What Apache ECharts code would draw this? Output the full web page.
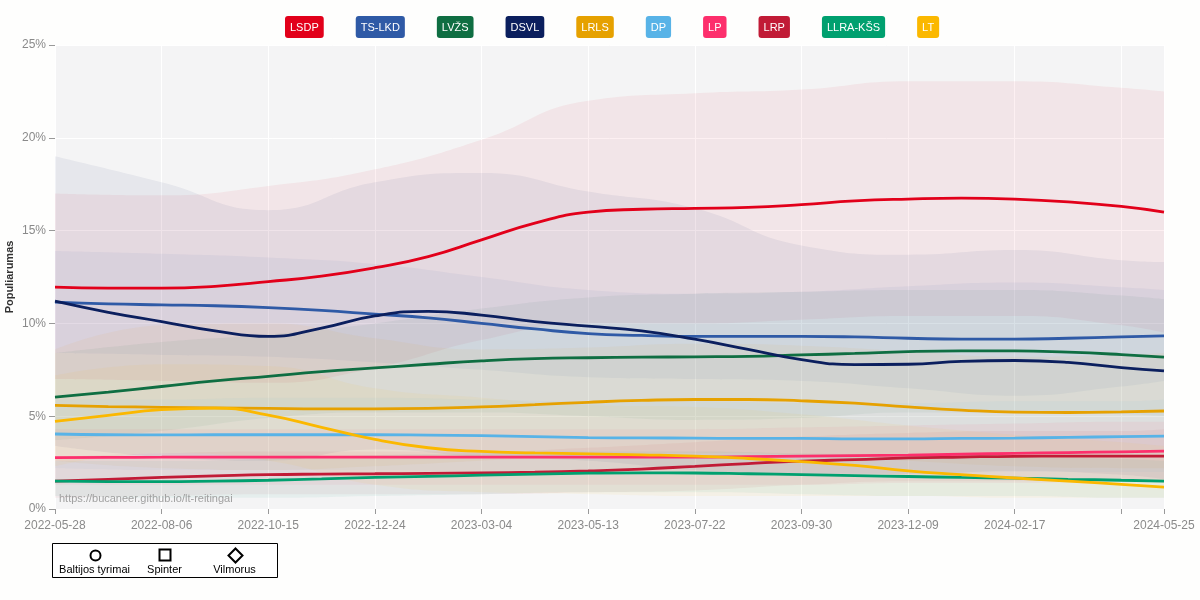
<!DOCTYPE html>
<html lang="lt">

<head>
    <meta charset="UTF-8">
    <script src="https://cdn.jsdelivr.net/npm/echarts@6/dist/echarts.min.js"></script>
    <title>Reitingai</title>
    <style>
        html, body { margin: 0; padding: 0; background: #fefefd; }
    </style>
</head>

<body>
    <div id="main" style="width: 1200px; height: 600px;"></div>

    <script>
        // parties and colours
        var parties = ['LSDP', 'TS-LKD', 'LVŽS', 'DSVL', 'LRLS', 'DP', 'LP', 'LRP', 'LLRA-KŠS', 'LT'];
        var colors = ['#e2001a', '#2f5aa6', '#0f6e42', '#0b1f5e', '#e6a100', '#58b3e7', '#fd2f6c', '#c11b36', '#00a06f', '#fbb800'];

        // smoothed estimate, every 5 weeks
        var dates = ['2022-05-28', '2022-07-02', '2022-08-06', '2022-09-10', '2022-10-15', '2022-11-19',
            '2022-12-24', '2023-01-28', '2023-03-04', '2023-04-08', '2023-05-13', '2023-06-17',
            '2023-07-22', '2023-08-26', '2023-09-30', '2023-11-04', '2023-12-09', '2024-01-13',
            '2024-02-17', '2024-03-23', '2024-04-27', '2024-05-25'];

        var lsdp = [11.95, 11.9, 11.9, 12.0, 12.25, 12.55, 13.0, 13.6, 14.5, 15.4, 16.0, 16.15, 16.2, 16.25, 16.4, 16.6, 16.7, 16.75, 16.7, 16.55, 16.3, 16.0];
        var tsLkd = [11.15, 11.05, 11.0, 10.95, 10.85, 10.7, 10.5, 10.3, 10.0, 9.7, 9.45, 9.35, 9.3, 9.3, 9.3, 9.27, 9.2, 9.15, 9.15, 9.2, 9.27, 9.33];
        var lvzs = [6.03, 6.3, 6.6, 6.9, 7.15, 7.4, 7.6, 7.8, 7.98, 8.1, 8.15, 8.18, 8.2, 8.22, 8.3, 8.38, 8.48, 8.52, 8.52, 8.45, 8.32, 8.18];
        var dsvl = [11.2, 10.6, 10.1, 9.6, 9.3, 9.75, 10.4, 10.65, 10.45, 10.1, 9.85, 9.6, 9.15, 8.6, 8.05, 7.78, 7.8, 7.95, 8.0, 7.9, 7.62, 7.44];
        var lrls = [5.58, 5.52, 5.48, 5.45, 5.42, 5.4, 5.4, 5.42, 5.5, 5.62, 5.75, 5.85, 5.9, 5.9, 5.83, 5.7, 5.5, 5.33, 5.22, 5.2, 5.23, 5.28];
        var dp = [4.04, 4.0, 3.99, 4.0, 4.0, 4.0, 4.0, 3.98, 3.95, 3.9, 3.85, 3.83, 3.82, 3.8, 3.8, 3.78, 3.78, 3.8, 3.82, 3.86, 3.9, 3.93];
        var lp = [2.77, 2.78, 2.79, 2.8, 2.8, 2.8, 2.8, 2.8, 2.8, 2.8, 2.8, 2.8, 2.8, 2.82, 2.85, 2.88, 2.9, 2.95, 3.0, 3.04, 3.08, 3.12];
        var lrp = [1.5, 1.6, 1.7, 1.78, 1.85, 1.88, 1.9, 1.92, 1.94, 1.98, 2.05, 2.15, 2.3, 2.45, 2.58, 2.66, 2.75, 2.8, 2.84, 2.85, 2.85, 2.85];
        var llra = [1.5, 1.48, 1.47, 1.5, 1.55, 1.62, 1.7, 1.76, 1.82, 1.88, 1.93, 1.95, 1.94, 1.9, 1.85, 1.8, 1.75, 1.7, 1.66, 1.6, 1.55, 1.5];
        var lt = [4.72, 5.05, 5.35, 5.44, 5.06, 4.4, 3.75, 3.3, 3.1, 3.02, 2.97, 2.92, 2.85, 2.72, 2.55, 2.35, 2.05, 1.85, 1.67, 1.5, 1.33, 1.18];

        // uncertainty bands, every 10 weeks
        var bandDates = ['2022-05-28', '2022-08-06', '2022-10-15', '2022-12-24', '2023-03-04', '2023-05-13',
            '2023-07-22', '2023-09-30', '2023-12-09', '2024-02-17', '2024-04-27', '2024-05-25'];

        var lsdpLo = [7.0, 6.9, 6.8, 7.6, 9.1, 10.0, 10.0, 10.2, 10.4, 10.4, 9.9, 9.5];
        var lsdpHi = [17.0, 16.9, 17.4, 18.3, 19.9, 22.0, 22.4, 22.6, 23.05, 23.05, 22.7, 22.5];
        var tsLkdLo = [8.4, 8.3, 8.2, 7.9, 7.5, 7.1, 7.0, 6.9, 6.5, 6.1, 6.6, 6.9];
        var tsLkdHi = [13.9, 13.75, 13.55, 13.2, 12.5, 11.8, 11.6, 11.7, 12.0, 12.2, 11.95, 11.8];
        var lvzsLo = [3.7, 4.2, 4.9, 5.2, 5.2, 5.0, 4.8, 4.9, 5.2, 5.2, 5.1, 5.0];
        var lvzsHi = [8.4, 9.0, 9.4, 10.0, 10.8, 11.4, 11.6, 11.7, 11.8, 11.8, 11.5, 11.3];
        var dsvlLo = [3.4, 2.8, 2.6, 3.2, 2.8, 2.6, 2.1, 1.9, 1.9, 2.05, 1.84, 1.6];
        var dsvlHi = [19.0, 17.6, 16.1, 17.6, 18.1, 17.1, 16.2, 14.2, 13.7, 13.95, 13.4, 13.3];
        var lrlsLo = [2.6, 2.2, 2.1, 2.3, 2.6, 2.9, 3.0, 2.9, 2.6, 2.3, 2.2, 2.2];
        var lrlsHi = [8.6, 9.9, 10.0, 9.2, 8.6, 8.7, 8.9, 8.8, 8.5, 8.2, 8.3, 8.4];
        var dpLo = [2.2, 2.1, 2.1, 2.1, 2.0, 2.0, 1.9, 1.9, 1.9, 2.0, 2.0, 2.0];
        var dpHi = [5.9, 5.9, 6.0, 6.0, 5.9, 5.8, 5.8, 5.7, 5.7, 5.8, 5.8, 5.9];
        var lpLo = [1.3, 1.3, 1.3, 1.3, 1.3, 1.3, 1.3, 1.3, 1.4, 1.4, 1.5, 1.5];
        var lpHi = [4.3, 4.3, 4.3, 4.3, 4.3, 4.3, 4.3, 4.4, 4.5, 4.6, 4.7, 4.7];
        var lrpLo = [0.6, 0.7, 0.8, 0.8, 0.8, 0.9, 1.0, 1.3, 1.5, 1.5, 1.5, 1.4];
        var lrpHi = [2.8, 3.0, 3.1, 3.1, 3.1, 3.3, 3.6, 3.9, 4.1, 4.2, 4.2, 4.3];
        var llraLo = [0.7, 0.6, 0.6, 0.7, 0.8, 0.9, 0.9, 0.8, 0.7, 0.7, 0.6, 0.6];
        var llraHi = [2.6, 2.6, 2.7, 2.9, 3.0, 3.1, 3.1, 3.0, 2.9, 2.8, 2.7, 2.6];
        var ltLo = [2.3, 3.0, 2.6, 1.3, 0.9, 0.8, 0.7, 0.7, 0.7, 0.6, 0.6, 0.6];
        var ltHi = [7.2, 7.8, 7.7, 6.5, 6.0, 5.6, 5.5, 5.1, 4.5, 4.0, 3.6, 3.4];

        var yTicks = [0, 5, 10, 15, 20, 25];
        var pollsters = ['Baltijos tyrimai', 'Spinter', 'Vilmorus'];

        var means = [lsdp, tsLkd, lvzs, dsvl, lrls, dp, lp, lrp, llra, lt];
        var lows = [lsdpLo, tsLkdLo, lvzsLo, dsvlLo, lrlsLo, dpLo, lpLo, lrpLo, llraLo, ltLo];
        var highs = [lsdpHi, tsLkdHi, lvzsHi, dsvlHi, lrlsHi, dpHi, lpHi, lrpHi, llraHi, ltHi];

        var DAY = 86400000;
        function toTime(s) { return Date.parse(s + 'T00:00:00Z'); }
        var t0 = toTime(dates[0]);
        var t1 = toTime(dates[dates.length - 1]);
        var spanDays = Math.round((t1 - t0) / DAY);

        var font = 'Liberation Sans, Arial, sans-serif';
        var series = [];

        // bands first so the lines sit on top
        parties.forEach(function (p, i) {
            series.push({
                name: p,
                type: 'line',
                stack: 'band' + i,
                silent: true,
                smooth: true,
                symbol: 'none',
                lineStyle: { opacity: 0 },
                data: bandDates.map(function (d, k) { return [toTime(d), lows[i][k]]; })
            });
            series.push({
                name: p,
                type: 'line',
                stack: 'band' + i,
                silent: true,
                smooth: true,
                symbol: 'none',
                lineStyle: { opacity: 0 },
                areaStyle: { color: colors[i], opacity: 0.06 },
                data: bandDates.map(function (d, k) { return [toTime(d), highs[i][k] - lows[i][k]]; })
            });
        });

        parties.forEach(function (p, i) {
            series.push({
                name: p,
                type: 'line',
                smooth: true,
                symbol: 'none',
                z: 5,
                lineStyle: { color: colors[i], width: 2.8 },
                itemStyle: { color: colors[i] },
                data: dates.map(function (d, k) { return [toTime(d), means[i][k]]; })
            });
        });

        var rich = {};
        parties.forEach(function (p, i) {
            rich['p' + i] = {
                color: '#fff',
                backgroundColor: colors[i],
                borderRadius: 3,
                padding: [6, 5, 5, 5],
                fontSize: 11,
                fontFamily: font
            };
        });

        var chart = echarts.init(document.getElementById('main'));
        var option = {
            animation: false,
            backgroundColor: '#fefefd',
            legend: {
                data: parties,
                top: 11,
                left: 275,
                itemWidth: 0,
                itemHeight: 0,
                itemGap: 27,
                icon: 'rect',
                selectedMode: false,
                formatter: function (name) {
                    return '{p' + parties.indexOf(name) + '|' + name + '}';
                },
                textStyle: { rich: rich }
            },
            grid: {
                left: 55,
                right: 36,
                top: 45,
                bottom: 91,
                containLabel: false,
                outerBoundsMode: 'none',
                show: true,
                backgroundColor: '#f4f4f5',
                borderWidth: 0
            },
            xAxis: [
                {
                    // data axis, dates as time
                    type: 'time',
                    min: t0,
                    max: t1,
                    show: false,
                    splitLine: { show: false }
                },
                {
                    // display axis, days since start
                    type: 'value',
                    position: 'bottom',
                    min: 0,
                    max: spanDays,
                    interval: 70,
                    axisLine: { show: false },
                    axisTick: { show: true, length: 5, lineStyle: { color: '#999' } },
                    axisLabel: {
                        color: '#8a8a8a',
                        fontSize: 12,
                        fontFamily: font,
                        margin: 11,
                        showMinLabel: true,
                        showMaxLabel: true,
                        formatter: function (v) {
                            if (v === 700) return '';
                            return new Date(t0 + v * DAY).toISOString().slice(0, 10);
                        }
                    },
                    splitLine: { show: true, lineStyle: { color: '#ffffff', width: 1 } }
                }
            ],
            yAxis: {
                type: 'value',
                min: yTicks[0],
                max: yTicks[yTicks.length - 1],
                interval: 5,
                name: 'Populiarumas',
                nameLocation: 'middle',
                nameGap: 40,
                nameMoveOverlap: false,
                nameTextStyle: { color: '#333', fontSize: 11, fontWeight: 'bold', fontFamily: font },
                axisLine: { show: false },
                axisTick: { show: true, length: 6, lineStyle: { color: '#999' } },
                axisLabel: { color: '#8a8a8a', fontSize: 12, fontFamily: font, margin: 9, formatter: '{value}%' },
                splitLine: { show: true, lineStyle: { color: '#ffffff', width: 1 } }
            },
            graphic: [
                {
                    type: 'text',
                    left: 59,
                    top: 493,
                    z: 10,
                    style: { text: 'https://bucaneer.github.io/lt-reitingai', fill: '#a0a0a0', fontSize: 11, fontFamily: font }
                },
                {
                    type: 'group',
                    left: 52,
                    top: 543,
                    children: [
                        { type: 'rect', shape: { x: 0, y: 0, width: 225, height: 34 }, style: { fill: '#fff', stroke: '#000', lineWidth: 1 } },
                        { type: 'circle', shape: { cx: 43, cy: 12, r: 5 }, style: { fill: 'none', stroke: '#000', lineWidth: 2 } },
                        { type: 'rect', shape: { x: 107, y: 6, width: 11, height: 11 }, style: { fill: 'none', stroke: '#000', lineWidth: 2 } },
                        { type: 'polygon', shape: { points: [[183, 5], [190, 12], [183, 19], [176, 12]] }, style: { fill: 'none', stroke: '#000', lineWidth: 2 } },
                        { type: 'text', x: 42, y: 26, style: { text: pollsters[0], fill: '#000', fontSize: 11, fontFamily: font, align: 'center', verticalAlign: 'middle' } },
                        { type: 'text', x: 112, y: 26, style: { text: pollsters[1], fill: '#000', fontSize: 11, fontFamily: font, align: 'center', verticalAlign: 'middle' } },
                        { type: 'text', x: 182, y: 26, style: { text: pollsters[2], fill: '#000', fontSize: 11, fontFamily: font, align: 'center', verticalAlign: 'middle' } }
                    ]
                }
            ],
            series: series
        };
        chart.setOption(option);
    </script>
</body>

</html>
